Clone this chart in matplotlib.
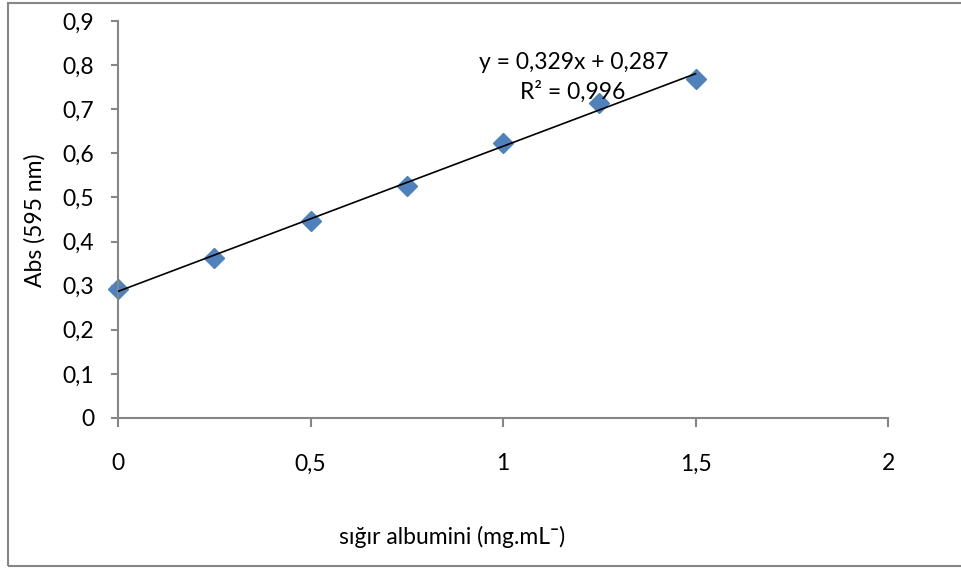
import matplotlib
matplotlib.use('Agg')
import matplotlib.pyplot as plt
from matplotlib.patches import Rectangle
import numpy as np

plt.rcParams['font.family'] = ['Lato', 'DejaVu Sans']

# albumin concentration (mg/mL) and absorbance at 595 nm
conc = [0, 0.25, 0.5, 0.75, 1.0, 1.25, 1.5]
absorb = [0.293, 0.363, 0.447, 0.527, 0.623, 0.715, 0.768]
slope = 0.329
intercept = 0.287
x_ticks = [0, 0.5, 1, 1.5, 2]
y_ticks = [0, 0.1, 0.2, 0.3, 0.4, 0.5, 0.6, 0.7, 0.8, 0.9]

grey = '#868686'
fs = 16.5

fig = plt.figure(figsize=(9.61, 5.69), dpi=100)
ax = fig.add_axes([118/961, 1 - 418/569, (888-118)/961, (418-21)/569])

# trendline
xs = np.array([conc[0], conc[-1]])
ax.plot(xs, slope*xs + intercept, color='black', lw=1.2, zorder=3)
ax.plot(conc, absorb, 'D', color='#4F81BD', markersize=10.5, zorder=2, clip_on=False)

ax.set_xlim(0, 2)
ax.set_ylim(0, 0.9)
ax.set_xticks(x_ticks)
ax.set_yticks(y_ticks)
fmt = lambda v: ('%g' % v).replace('.', ',')
ax.set_xticklabels([fmt(v) for v in x_ticks])
ax.set_yticklabels([fmt(v) for v in y_ticks])

for s in ['top', 'right']:
    ax.spines[s].set_visible(False)
for s in ['left', 'bottom']:
    ax.spines[s].set_color(grey)
    ax.spines[s].set_linewidth(1.5)
ax.tick_params(axis='x', direction='out', length=6.5, width=1.5, color=grey, pad=19, labelsize=fs)
ax.tick_params(axis='y', direction='out', length=5, width=1.5, color=grey, pad=12, labelsize=fs)

ax.text(1.184, 0.807, 'y = 0,329x + 0,287', ha='center', va='center', fontsize=fs)
ax.text(1.182, 0.739, 'R² = 0,996', ha='center', va='center', fontsize=fs)

fig.text(35/961, 1 - 220/569, 'Abs (595 nm)', rotation=90, ha='center', va='center', fontsize=fs)
fig.text(452/961, 1 - 537/569, 'sığır albumini (mg.mL¯)', ha='center', va='center', fontsize=fs)

# chart border
fig.patches.append(Rectangle((8/961, 3/569), 1.0, 563/569, transform=fig.transFigure,
                             fill=False, edgecolor=grey, lw=1.5))

fig.savefig('out.png', dpi=100)
